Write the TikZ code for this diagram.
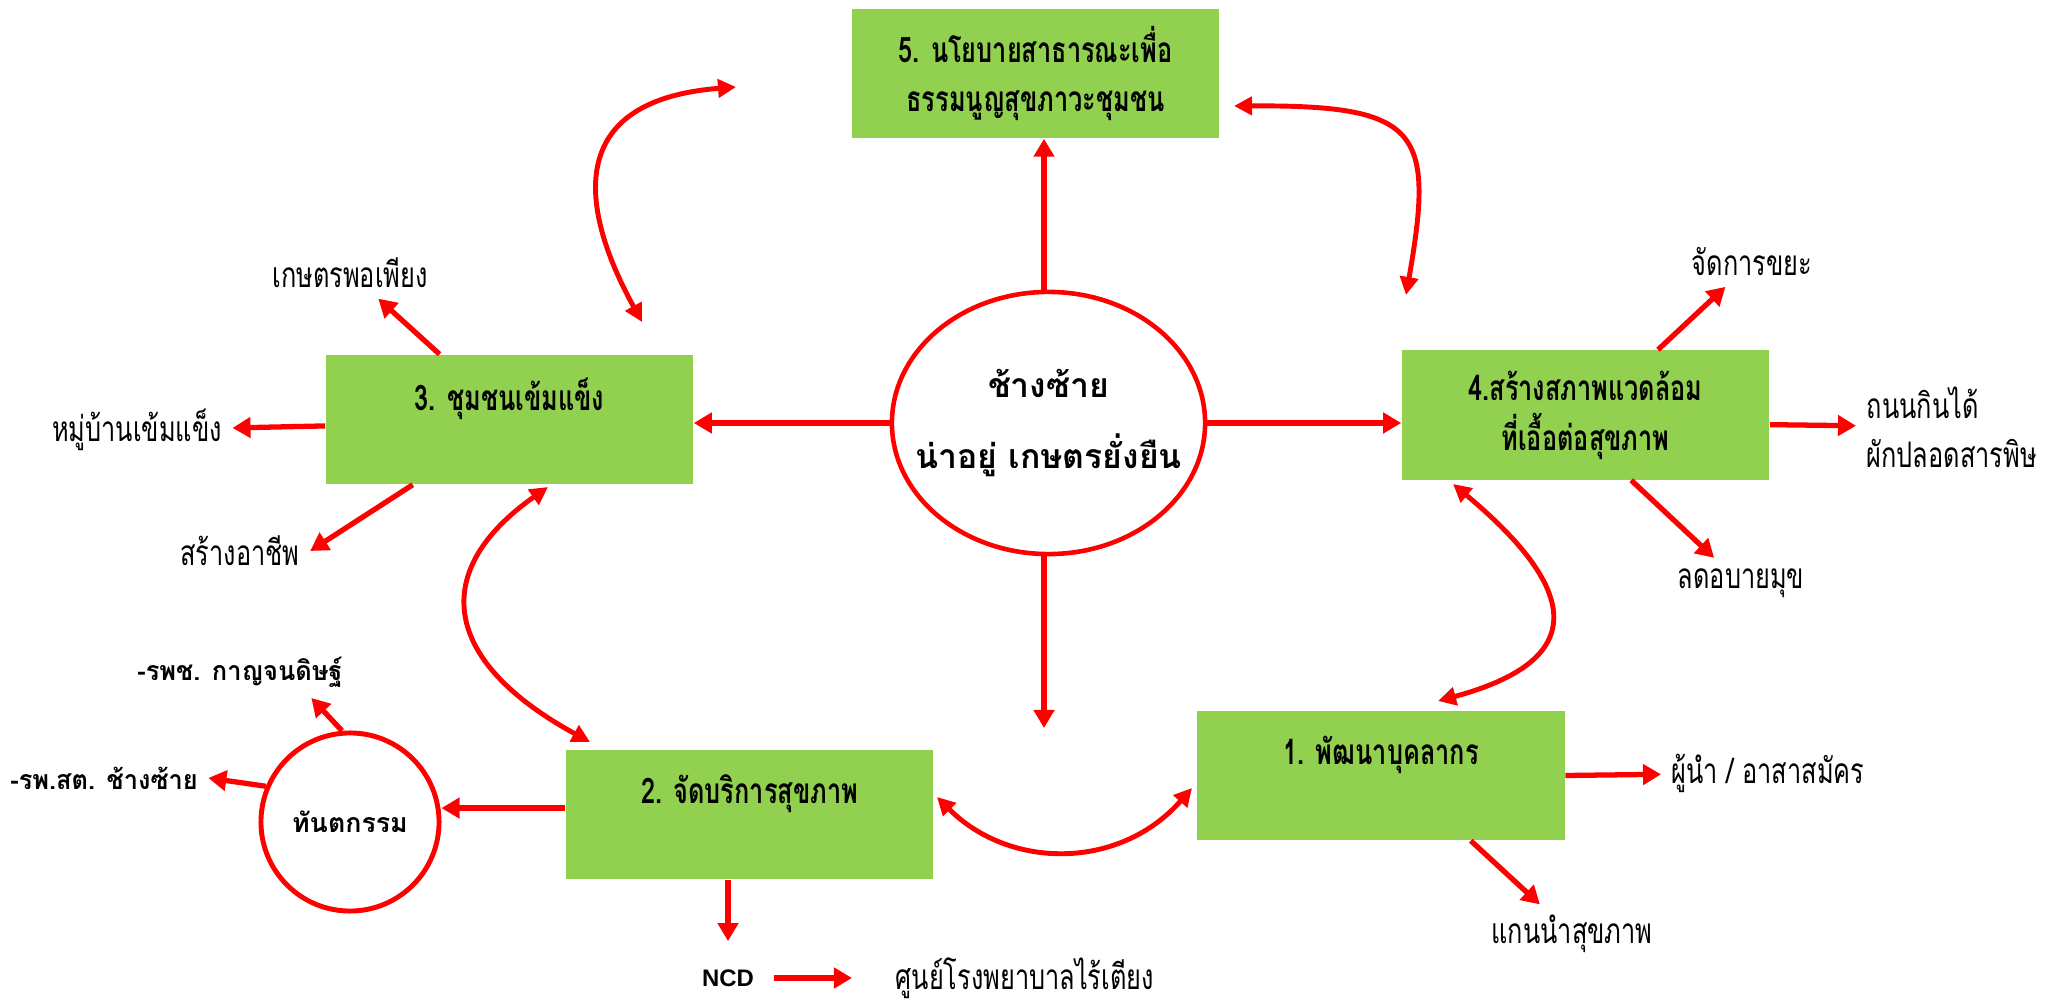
\documentclass[tikz,border=0pt]{standalone}
\usepackage{fontspec}
\newfontfamily\thai[Script=Thai]{Loma}
\newfontfamily\thaib[Script=Thai,FakeStretch=0.95]{Loma}
\newfontfamily\thain[Script=Thai,FakeStretch=0.72]{Loma}
\newfontfamily\arialf{Liberation Sans}
\usetikzlibrary{arrows.meta,shapes.geometric}
\definecolor{boxgreen}{HTML}{92D050}
\begin{document}
\begin{tikzpicture}
  [x=0.01cm,y=-0.01cm,
   box/.style={fill=boxgreen,minimum width=3.67cm,minimum height=1.29cm,inner sep=0pt,align=center,font=\thain\bfseries\fontsize{10}{14.2}\selectfont},
   lbl/.style={font=\thain\fontsize{10}{14}\selectfont,inner sep=0.1cm},
   blbl/.style={font=\thaib\bfseries\fontsize{7.6}{10}\selectfont,inner sep=0.1cm},
   arr/.style={red,line width=1.5pt,-{Triangle[length=0.18cm,width=0.2cm]}},
   dbl/.style={red,line width=1.4pt,{Triangle[length=0.18cm,width=0.18cm]}-{Triangle[length=0.18cm,width=0.18cm]}}]
  \useasboundingbox (0,0) rectangle (2067,1001);
  \node[box] (b5) at (1035.5,73.5) {5. นโยบายสาธารณะเพื่อ\\ธรรมนูญสุขภาวะชุมชน};
  \node[box] (b3) at (509.5,419.5) {3. ชุมชนเข้มแข็ง\\\mbox{}};
  \node[box] (b4) at (1585.5,415) {4.สร้างสภาพแวดล้อม\\ที่เอื้อต่อสุขภาพ};
  \node[box] (b1) at (1381,775.5) {1. พัฒนาบุคลากร\\\mbox{}};
  \node[box] (b2) at (749.5,814.5) {2. จัดบริการสุขภาพ\\\mbox{}};
  \node[draw=red,line width=1.3pt,ellipse,minimum width=3.13cm,minimum height=2.62cm] (c) at (1048.5,423) {};
  \node[align=center,font=\thai\bfseries\fontsize{9.6}{20.2}\selectfont] (ct) at (c) {ช้างซ้าย\\น่าอยู่ เกษตรยั่งยืน};
  \node[draw=red,line width=1.4pt,circle,minimum size=1.78cm,font=\thai\bfseries\fontsize{7.6}{10}\selectfont] (t) at (350,822) {ทันตกรรม};
  \node[lbl] (l31) at (350,273) {เกษตรพอเพียง};
  \node[lbl] (l32) at (137,430) {หมู่บ้านเข้มแข็ง};
  \node[lbl] (l33) at (240,551) {สร้างอาชีพ};
  \node[lbl] (l41) at (1752,262) {จัดการขยะ};
  \node[lbl,align=left,anchor=west] (l42) at (1856,427) {ถนนกินได้\\ผักปลอดสารพิษ};
  \node[lbl] (l43) at (1741,583) {ลดอบายมุข};
  \node[lbl] (l11) at (1768,773) {ผู้นำ / อาสาสมัคร};
  \node[lbl] (l12) at (1572,934) {แกนนำสุขภาพ};
  \node[blbl] (l21) at (104,778) {-รพ.สต. ช้างซ้าย};
  \node[blbl] (l22) at (240,672) {-รพช. กาญจนดิษฐ์};
  \node[font=\arialf\bfseries\fontsize{6.8}{8}\selectfont] (ncd) at (728,978) {NCD};
  \node[lbl,anchor=west] (l23) at (885,978) {ศูนย์โรงพยาบาลไร้เตียง};
  \coordinate (u) at (1044,292);
  \coordinate (d) at (1044,728);
  \draw[arr] (u) -- (u |- b5.south);
  \draw[arr] (c.south -| d) -- (d);
  \draw[arr] (c.west) -- (c.west -| b3.east);
  \draw[arr] (c.east) -- (c.east -| b4.west);
  \draw[arr] (b3.137) -- (l31);
  \draw[arr] (b3.182) -- (l32);
  \draw[arr] (b3.214) -- (l33.east);
  \draw[arr] (b4.42) -- (l41);
  \draw[arr] (b4.-3) -- (l42);
  \draw[arr] (b4.-55) -- (l43);
  \draw[arr] (b1.east) -- (l11);
  \draw[arr] (b1.-36) -- (l12);
  \draw[arr] (b2.178) -- (b2.178 -| t.east);
  \draw[arr] (t.157) -- (l21.east);
  \draw[arr] (t.95) -- (l22.-20);
  \draw[arr,shorten >=0.16cm] (b2.south -| ncd) -- (ncd);
  \draw[arr,shorten <=0.08cm,shorten >=0.33cm] (ncd) -- (l23);
  \coordinate (q1) at (642,322); \coordinate (q2) at (736,87);
  \coordinate (q3) at (1234,106); \coordinate (q4) at (1406,295);
  \coordinate (q5) at (1453,484); \coordinate (q6) at (1438,701);
  \coordinate (q7) at (548,487); \coordinate (q8) at (590,742);
  \coordinate (q9) at (937,797); \coordinate (q10) at (1192,788);
  \draw[dbl] (q1) .. controls (575,200) and (570,100) .. (q2);
  \draw[dbl] (q3) .. controls (1420,105) and (1435,130) .. (q4);
  \draw[dbl] (q5) .. controls (1580,590) and (1590,660) .. (q6);
  \draw[dbl] (q7) .. controls (430,570) and (440,660) .. (q8);
  \draw[dbl] (q9) .. controls (1010,870) and (1120,870) .. (q10);
\end{tikzpicture}
\end{document}
